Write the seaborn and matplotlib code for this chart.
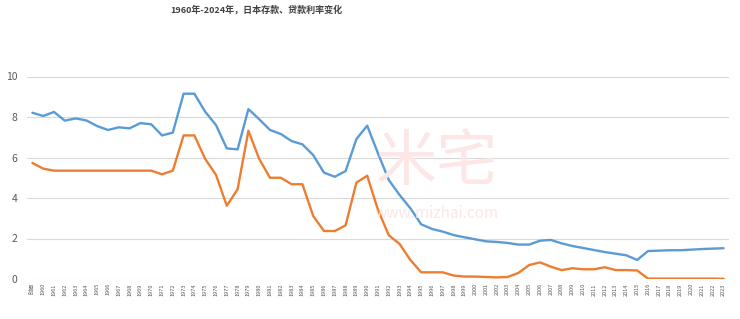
import matplotlib
matplotlib.use("Agg")
import matplotlib.pyplot as plt
import seaborn as sns
import pandas as pd
import numpy as np

categories = ["时间"] + [str(y) for y in range(1960, 2024)]

loan_rate = [8.21, 8.05, 8.25, 7.82, 7.93, 7.83, 7.55, 7.36, 7.49, 7.44,
             7.70, 7.64, 7.09, 7.23, 9.15, 9.15, 8.26, 7.60, 6.45, 6.40,
             8.39, 7.89, 7.36, 7.16, 6.81, 6.65, 6.12, 5.25, 5.05, 5.33,
             6.91, 7.57, 6.20, 4.89, 4.15, 3.49, 2.70, 2.47, 2.34, 2.17,
             2.06, 1.96, 1.86, 1.83, 1.78, 1.70, 1.70, 1.89, 1.93, 1.76,
             1.63, 1.53, 1.43, 1.33, 1.25, 1.17, 0.94, 1.38, 1.40, 1.42,
             1.42, 1.45, 1.48, 1.50, 1.52]

deposit_rate = [5.73, 5.45, 5.35, 5.35, 5.35, 5.35, 5.35, 5.35, 5.35, 5.35,
                5.35, 5.35, 5.17, 5.35, 7.09, 7.09, 5.93, 5.14, 3.62, 4.43,
                7.32, 5.93, 5.00, 5.00, 4.68, 4.68, 3.11, 2.37, 2.37, 2.65,
                4.76, 5.10, 3.41, 2.16, 1.73, 0.94, 0.33, 0.33, 0.33, 0.17,
                0.12, 0.12, 0.10, 0.08, 0.10, 0.30, 0.69, 0.82, 0.61, 0.44,
                0.53, 0.48, 0.48, 0.58, 0.44, 0.44, 0.42, 0.02, 0.02, 0.02,
                0.02, 0.02, 0.02, 0.02, 0.01]

y_ticks = [0, 2, 4, 6, 8, 10]

sns.set_theme(style="white")
plt.rcParams['font.family'] = ['Noto Sans CJK SC', 'DejaVu Sans']

df = pd.DataFrame({
    "pos": list(range(len(categories))) * 2,
    "rate": loan_rate + deposit_rate,
    "series": ["贷款利率"] * len(categories) + ["存款利率"] * len(categories),
})

fig = plt.figure(figsize=(7.4, 3.19), dpi=100)
ax = fig.add_axes([27 / 740, 40 / 319, 702 / 740, 202.5 / 319])

# watermark
fig.text(437 / 740, 1 - 163 / 319, "米宅", fontsize=44, color="#FCE6E6",
         ha="center", va="center", fontweight="medium", zorder=0)
fig.text(437 / 740, 1 - 213 / 319, "www.mizhai.com", fontsize=11, color="#FCE6E6",
         ha="center", va="center", zorder=0)

sns.lineplot(data=df, x="pos", y="rate", hue="series",
             palette={"贷款利率": "#5B9BD5", "存款利率": "#ED7D31"},
             linewidth=1.7, legend=False, ax=ax, zorder=3)

ax.set_xlim(-0.5, len(categories) - 0.5)
ax.set_ylim(0, 10)
ax.set_yticks(y_ticks)
ax.set_yticklabels([str(t) for t in y_ticks], fontsize=7.5, color="#595959")
ax.set_xticks(range(len(categories)))
ax.set_xticklabels(categories, rotation=90, fontsize=4, color="#595959")
ax.tick_params(axis="both", length=0)
ax.tick_params(axis="y", pad=7)
ax.tick_params(axis="x", pad=3)
ax.grid(axis="y", color="#D9D9D9", linewidth=0.8)
ax.set_axisbelow(True)
for s in ax.spines.values():
    s.set_visible(False)
ax.set_xlabel("")
ax.set_ylabel("")
ax.patch.set_alpha(0)

fig.text(256 / 740, 1 - 10 / 319, "1960年-2024年，日本存款、贷款利率变化",
         fontsize=6.5, fontweight="bold", color="#404040", ha="center", va="center")

fig.savefig("out.png", dpi=100)
